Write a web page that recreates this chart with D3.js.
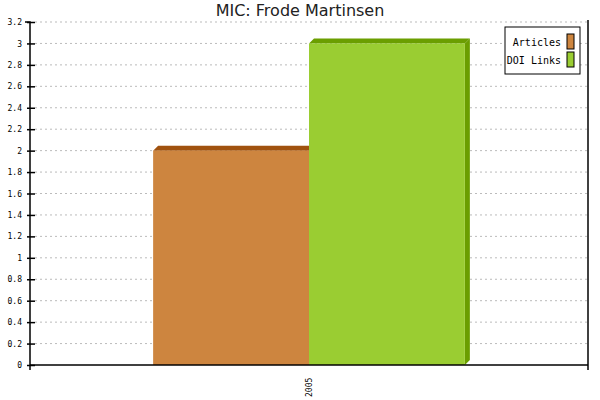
<!DOCTYPE html>
<html><head><meta charset="utf-8">
<script src="https://cdn.jsdelivr.net/npm/d3@7"></script>
<style>body{margin:0;background:#fff}</style></head>
<body><svg id="chart" width="600" height="400"></svg>
<script>
const years = ['2005'];
const seriesNames = ['Articles', 'DOI Links'];
const articles = [2];
const doiLinks = [3];
const yTicks = [0,0.2,0.4,0.6,0.8,1,1.2,1.4,1.6,1.8,2,2.2,2.4,2.6,2.8,3,3.2];
const colors = ['#cd853f', '#9acd32'];
const darks = ['#a0520f', '#6b9e00'];

const svg = d3.select('#chart');
const mLeft = 30, mRight = 588, mTop = 22, mBottom = 365, depth = 5;
const y = d3.scaleLinear().domain([0, 3.2]).range([mBottom, mTop]);
const x = d3.scaleBand().domain(years).range([mLeft, mRight]);
const inner = d3.scaleBand().domain(seriesNames).range([0, x.bandwidth()]).paddingOuter(0.79);

svg.append('text').attr('x', 300).attr('y', 16).attr('text-anchor', 'middle')
  .attr('font-family', 'DejaVu Sans').attr('font-size', 16).attr('fill', '#222').text('MIC: Frode Martinsen');

svg.selectAll('line.grid').data(yTicks.slice(1)).enter().append('line')
  .attr('x1', mLeft + 5).attr('x2', mRight).attr('y1', d => y(d)).attr('y2', d => y(d))
  .attr('stroke', '#bbb').attr('stroke-dasharray', '2,3');

const vals = [articles, doiLinks];
years.forEach((yr, i) => {
  seriesNames.forEach((s, j) => {
    const x0 = x(yr) + inner(s), w = inner.bandwidth(), v = vals[j][i], yt = y(v);
    const g = svg.append('g');
    g.append('polygon').attr('points', `${x0+w},${yt} ${x0+w+depth},${yt-depth} ${x0+w+depth},${mBottom-depth} ${x0+w},${mBottom}`).attr('fill', darks[j]);
    g.append('polygon').attr('points', `${x0},${yt} ${x0+depth},${yt-depth} ${x0+w+depth},${yt-depth} ${x0+w},${yt}`).attr('fill', darks[j]);
    g.append('rect').attr('x', x0).attr('y', yt).attr('width', w).attr('height', mBottom - yt).attr('fill', colors[j]);
  });
});

const yAxis = svg.append('g').attr('transform', `translate(${mLeft},0)`)
  .call(d3.axisLeft(y).tickValues(yTicks).tickSize(5).tickFormat(d3.format('')));
yAxis.selectAll('text').attr('font-family', 'DejaVu Sans Mono').attr('font-size', 8).attr('fill', '#000');
yAxis.select('.domain').attr('d', `M-5,${mTop}H0V${mBottom}`).attr('stroke-width', 1.5);
yAxis.selectAll('line').attr('x1', 5).attr('x2', -3).attr('stroke-width', 1.5);

svg.append('line').attr('x1', mRight).attr('x2', mRight).attr('y1', mTop - 2).attr('y2', mBottom + 5).attr('stroke', '#000').attr('stroke-width', 1.5);
svg.append('line').attr('x1', mLeft).attr('x2', mRight).attr('y1', mBottom).attr('y2', mBottom).attr('stroke', '#000').attr('stroke-width', 1.5);
svg.append('line').attr('x1', mLeft).attr('x2', mLeft).attr('y1', mBottom).attr('y2', mBottom + 5).attr('stroke', '#000').attr('stroke-width', 1.5);

years.forEach(yr => {
  const cx = x(yr) + x.bandwidth() / 2;
  svg.append('text').attr('transform', `translate(${cx + 3},${mBottom + 32}) rotate(-90)`)
    .attr('font-family', 'DejaVu Sans Mono').attr('font-size', 8).text(yr);
});

const lg = svg.append('g');
lg.append('rect').attr('x', 505).attr('y', 27).attr('width', 75).attr('height', 47).attr('fill', '#fff').attr('stroke', '#000').attr('stroke-width', 1);
seriesNames.forEach((s, j) => {
  lg.append('text').attr('x', 561).attr('y', 46 + j * 18).attr('text-anchor', 'end')
    .attr('font-family', 'DejaVu Sans Mono').attr('font-size', 10).text(s);
  lg.append('rect').attr('x', 567).attr('y', 34 + j * 18).attr('width', 7).attr('height', 15)
    .attr('fill', colors[j]).attr('stroke', '#000');
});
</script></body></html>
